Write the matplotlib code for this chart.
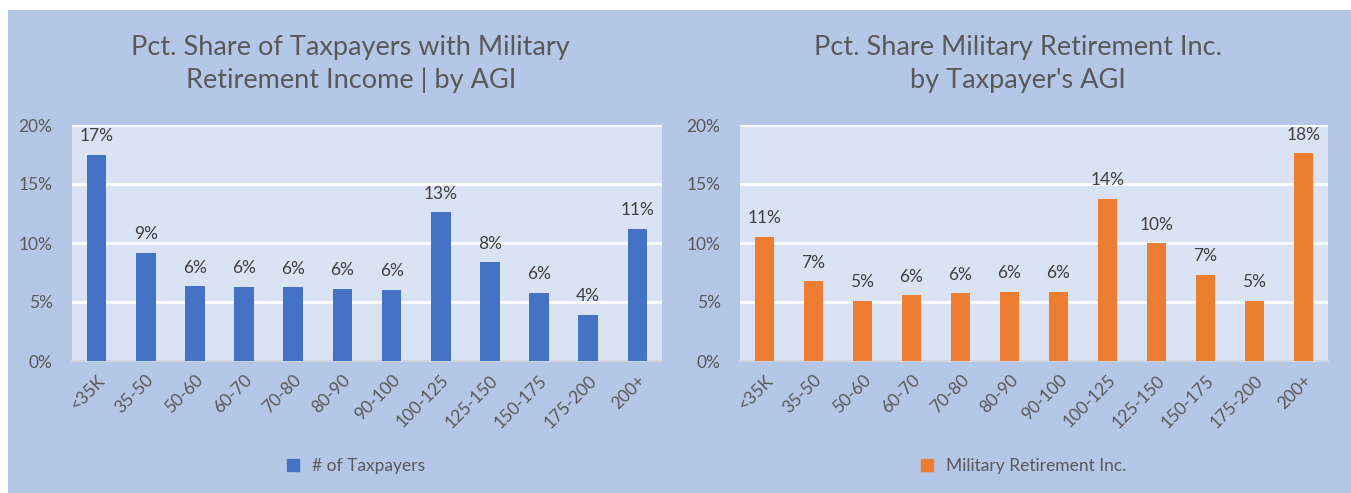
import numpy as np
import matplotlib.pyplot as plt
from matplotlib.patches import Rectangle
from matplotlib.lines import Line2D

plt.rcParams['font.family'] = ['Lato', 'DejaVu Sans']

agi_bins = ["<35K", "35-50", "50-60", "60-70", "70-80", "80-90", "90-100",
            "100-125", "125-150", "150-175", "175-200", "200+"]
taxpayers_pct = [17.45, 9.16, 6.32, 6.30, 6.25, 6.11, 6.03, 12.60, 8.35, 5.77, 3.90, 11.2]
mil_ret_pct = [10.55, 6.75, 5.08, 5.56, 5.73, 5.87, 5.87, 13.73, 9.96, 7.29, 5.08, 17.59]

W, H = 1351, 493
fig = plt.figure(figsize=(W / 100, H / 100), dpi=100, facecolor='white')
fig.patches.append(Rectangle((8 / W, 0), 1 - 8 / W, 1 - 10 / H, transform=fig.transFigure,
                             facecolor='#B4C7E7', edgecolor='none', zorder=-1))

panels = [
    (72, 662, taxpayers_pct, '#4472C4', "Pct. Share of Taxpayers with Military\nRetirement Income | by AGI",
     "# of Taxpayers"),
    (740, 1328, mil_ret_pct, '#ED7D31', "Pct. Share Military Retirement Inc.\nby Taxpayer's AGI",
     "Military Retirement Inc."),
]

for x0, x1, vals, col, title, leg in panels:
    ax = fig.add_axes([x0 / W, (H - 361) / H, (x1 - x0) / W, 236 / H])
    ax.set_facecolor('#DAE3F3')
    x = np.arange(len(agi_bins))
    ax.bar(x, vals, width=0.4, color=col, zorder=3)
    for xi, v in zip(x, vals):
        ax.text(xi, v + 0.9, f"{v:.0f}%", ha='center', va='bottom', fontsize=12.5, color='#404040')
    ax.set_xlim(-0.5, len(agi_bins) - 0.5)
    ax.set_ylim(0, 20)
    ax.set_yticks([0, 5, 10, 15, 20])
    ax.set_yticklabels(["0%", "5%", "10%", "15%", "20%"])
    ax.set_xticks(x)
    ax.set_xticklabels(agi_bins, rotation=45, ha='right', rotation_mode='anchor')
    ax.tick_params(length=0, labelsize=12.5, labelcolor='#595959', pad=8)
    ax.tick_params(axis='y', pad=14)
    ax.grid(axis='y', color='white', linewidth=2, zorder=0)
    for s in ['top', 'right', 'left']:
        ax.spines[s].set_visible(False)
    ax.spines['bottom'].set_color('#D0D4DC')
    ax.spines['bottom'].set_linewidth(1.5)
    cx = (x0 + x1) / 2 / W - 0.012
    fig.text(cx, 1 - 64 / H, title, ha='center', va='center', fontsize=19.5, color='#595959',
             linespacing=1.4)
    h = Line2D([], [], marker='s', linestyle='none', color=col, markersize=9)
    fig.legend([h], [leg], loc='center', bbox_to_anchor=(cx, 1 - 466 / H), frameon=False,
               fontsize=12.5, labelcolor='#595959', handletextpad=0.1)

fig.savefig('out.png', dpi=100, facecolor='white')
